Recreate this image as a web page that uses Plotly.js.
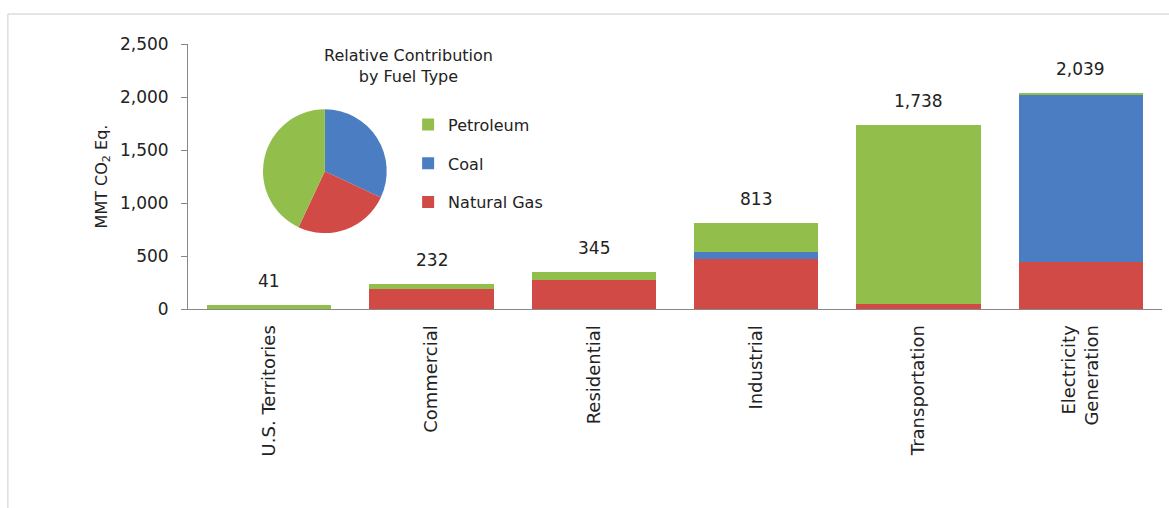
<!DOCTYPE html>
<html>
<head>
<meta charset="utf-8">
<script src="https://cdn.plot.ly/plotly-3.0.1.min.js"></script>
<style>
  body { margin: 0; background: #fff; }
  #chart { width: 1169px; height: 508px; }
</style>
</head>
<body>
<div id="chart"></div>
<script>
var sectors = ["U.S. Territories", "Commercial", "Residential", "Industrial", "Transportation", "Electricity<br>Generation"];
var naturalGas = [1, 192, 277, 468, 47, 442];
var coal = [3, 0, 0, 66, 0, 1575];
var petroleum = [37, 40, 68, 279, 1691, 22];

var pieLabels = ["Coal", "Natural Gas", "Petroleum"];
var pieShares = [32, 25, 43];

var green = "#92bf4c";
var blue = "#4a7dc2";
var red = "#d24a46";
var font = "DejaVu Sans, Verdana, sans-serif";

function getBarTrace(name, values, color, rank) {
    return {
        name: name,
        x: sectors,
        y: values,
        type: "bar",
        legendgroup: name,
        legendrank: rank,
        marker: { color: color },
        hoverinfo: "none"
    };
}

// first trace sits at the bottom of each stack
var traces = [];
traces.push(getBarTrace("Natural Gas", naturalGas, red, 3));
traces.push(getBarTrace("Coal", coal, blue, 2));
traces.push(getBarTrace("Petroleum", petroleum, green, 1));

traces.push({
    type: "pie",
    labels: pieLabels,
    values: pieShares,
    marker: { colors: [blue, red, green] },
    sort: false,
    direction: "clockwise",
    rotation: 0,
    textinfo: "none",
    hoverinfo: "none",
    showlegend: false,
    domain: { x: [0.077, 0.204], y: [0.285, 0.755] }
});

var annotations = [];
for (let i = 0; i < sectors.length; i++) {
    let total = naturalGas[i] + coal[i] + petroleum[i];
    annotations.push({
        x: sectors[i],
        y: total,
        text: total.toLocaleString("en-US"),
        showarrow: false,
        yshift: 24,
        font: { family: font, size: 17, color: "#222" }
    });
}
annotations.push({
    xref: "paper", yref: "paper",
    x: 0.138, y: 1.0,
    yanchor: "top",
    text: "Relative Contribution<br>by Fuel Type",
    showarrow: false,
    font: { family: font, size: 16, color: "#222" }
});

var layout = {
    width: 1169,
    height: 508,
    barmode: "stack",
    bargap: 0.236,
    margin: { l: 188, r: 7, t: 44, b: 199 },
    paper_bgcolor: "#fff",
    plot_bgcolor: "#fff",
    font: { family: font, color: "#222" },
    xaxis: {
        type: "category",
        tickangle: -90,
        ticks: "",
        ticklabelstandoff: 8,
        showline: true,
        linecolor: "#888",
        linewidth: 1,
        tickfont: { family: font, size: 18, color: "#222" }
    },
    yaxis: {
        range: [0, 2500],
        dtick: 500,
        tickformat: ",d",
        showgrid: false,
        zeroline: false,
        showline: true,
        linecolor: "#888",
        ticks: "outside",
        ticklen: 6,
        tickcolor: "#888",
        ticklabelstandoff: 9,
        tickfont: { family: font, size: 17, color: "#222" },
        title: { text: "MMT CO<sub>2</sub> Eq.", font: { family: font, size: 16, color: "#222" }, standoff: 8 }
    },
    legend: {
        x: 0.226, y: 0.76,
        xanchor: "left", yanchor: "top",
        traceorder: "grouped",
        tracegroupgap: 15,
        bgcolor: "rgba(0,0,0,0)",
        font: { family: font, size: 16, color: "#222" }
    },
    shapes: [
        { type: "line", xref: "paper", yref: "paper", x0: -0.185, x1: 1.008, y0: 1.113, y1: 1.113, line: { color: "#ddd", width: 1.5 } },
        { type: "line", xref: "paper", yref: "paper", x0: -0.185, x1: -0.185, y0: 1.113, y1: -0.76, line: { color: "#ddd", width: 1.5 } }
    ],
    annotations: annotations
};

Plotly.newPlot("chart", traces, layout, { displayModeBar: false, staticPlot: true });
</script>
</body>
</html>
